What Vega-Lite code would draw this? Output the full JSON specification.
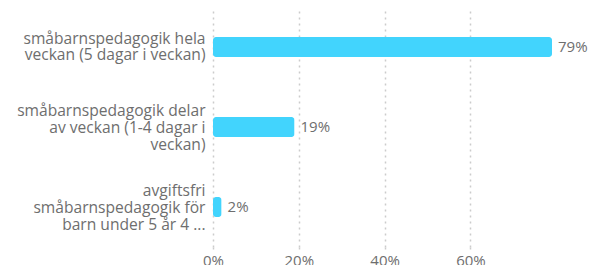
{
  "$schema": "https://vega.github.io/schema/vega-lite/v6.json",
  "width": 339,
  "height": 240,
  "padding": {"left": 0, "top": 7, "right": 0, "bottom": 0},
  "background": "white",
  "config": {
    "view": {"stroke": null},
    "font": "Open Sans",
    "axis": {"labelFont": "Open Sans", "labelColor": "#6e6e6e", "labelFontSize": 15}
  },
  "data": {
    "values": [
      {"label": "småbarnspedagogik hela|veckan (5 dagar i veckan)", "value": 79, "text": "79%"},
      {"label": "småbarnspedagogik delar|av veckan (1-4 dagar i|veckan)", "value": 19, "text": "19%"},
      {"label": "avgiftsfri|småbarnspedagogik för|barn under 5 år 4 ...", "value": 2, "text": "2%"}
    ]
  },
  "encoding": {
    "y": {
      "field": "label",
      "type": "nominal",
      "sort": null,
      "axis": {
        "title": null,
        "domain": false,
        "ticks": false,
        "grid": false,
        "labelFontSize": 15.6,
        "labelPadding": 8,
        "labelLimit": 300,
        "labelLineHeight": 16.8,
        "labelExpr": "split(datum.label, '|')",
        "labelOffset": {
          "condition": {"test": "length(split(datum.value, '|')) == 2", "value": -8.4},
          "value": -16
        },
        "minExtent": 213,
        "maxExtent": 213
      }
    },
    "x": {
      "field": "value",
      "type": "quantitative",
      "scale": {"domain": [0, 79], "nice": false},
      "axis": {
        "title": null,
        "values": [0, 20, 40, 60],
        "labelExpr": "datum.value + '%'",
        "domain": false,
        "grid": true,
        "gridColor": "#cccccc",
        "gridDash": [2, 4],
        "gridWidth": 1.5,
        "ticks": true,
        "tickColor": "#cccccc",
        "tickDash": [2, 4],
        "tickWidth": 1.5,
        "tickSize": 5,
        "labelPadding": 1,
        "labelFlush": false
      }
    }
  },
  "layer": [
    {
      "mark": {"type": "bar", "color": "#42d4fd", "size": 20, "cornerRadius": 3}
    },
    {
      "mark": {"type": "text", "align": "left", "baseline": "middle", "dx": 6, "fontSize": 15, "color": "#6e6e6e"},
      "encoding": {"text": {"field": "text"}}
    }
  ]
}
